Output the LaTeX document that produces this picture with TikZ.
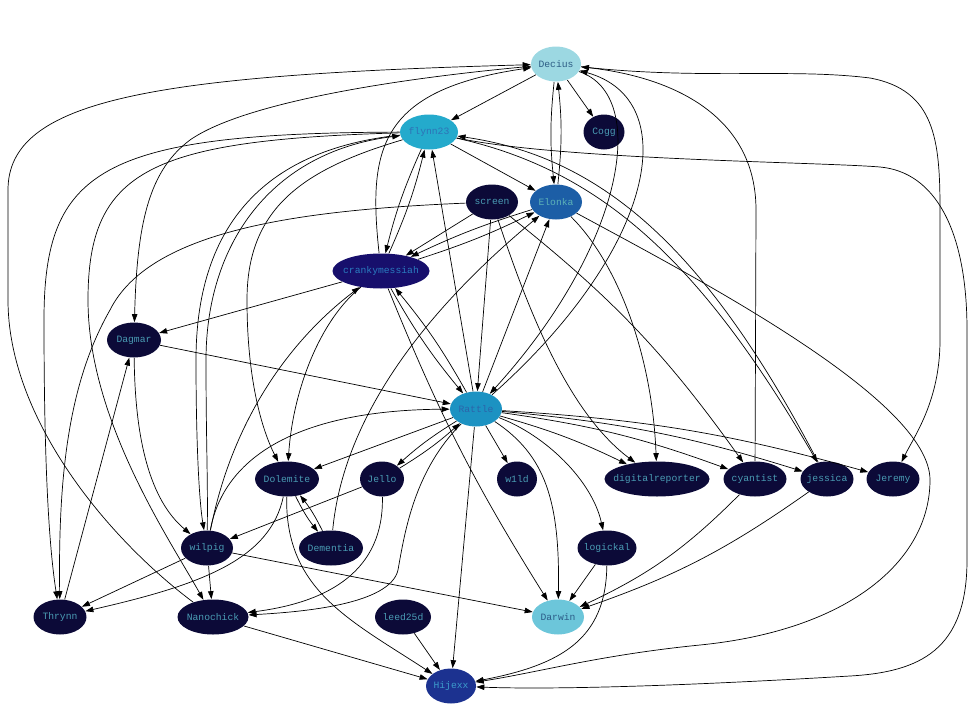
\documentclass[tikz,border=0pt]{standalone}
\usepackage{fontspec}
\usepackage{xcolor}
\usepackage{tikz}
\usetikzlibrary{shapes.geometric,arrows.meta}
\newfontfamily\userfont{Liberation Mono}
\definecolor{userbg}{HTML}{0C0A38}
\definecolor{usertx}{HTML}{4A9CB4}
\definecolor{deciusbg}{HTML}{9CD8E2}
\definecolor{deciustx}{HTML}{2C5C84}
\definecolor{flynnbg}{HTML}{24AACC}
\definecolor{flynntx}{HTML}{2E72B6}
\definecolor{elonkabg}{HTML}{1C5EA6}
\definecolor{elonkatx}{HTML}{5CB2B8}
\definecolor{crankybg}{HTML}{170F6C}
\definecolor{crankytx}{HTML}{2A7CC0}
\definecolor{rattlebg}{HTML}{1C92C2}
\definecolor{rattletx}{HTML}{2C64AA}
\definecolor{darwinbg}{HTML}{6CC6DA}
\definecolor{darwintx}{HTML}{2C5C88}
\definecolor{hijexxbg}{HTML}{1C3290}
\definecolor{hijexxtx}{HTML}{3C9CCC}
\begin{document}
\begin{tikzpicture}[x=1pt,y=1pt,line width=0.7pt,>={Triangle[length=8pt,width=5.5pt]},
  user/.style={ellipse,fill=userbg,text=usertx,inner xsep=-40pt,inner ysep=0pt,minimum height=35pt,font=\userfont\fontsize{9.7pt}{11pt}\selectfont}]
      \useasboundingbox (0,0) rectangle (980,-720);
      \node[user,fill=deciusbg,text=deciustx,minimum width=50pt] (Decius) at (556,-64) {Decius};
      \node[user,fill=flynnbg,text=flynntx,minimum width=58pt] (flynn23) at (429,-132) {flynn23};
      \node[user,minimum width=41pt] (Cogg) at (604,-132) {Cogg};
      \node[user,minimum width=52pt] (screen) at (492,-202) {screen};
      \node[user,fill=elonkabg,text=elonkatx,minimum width=52pt] (Elonka) at (556,-202) {Elonka};
      \node[user,fill=crankybg,text=crankytx,minimum width=97pt] (crankymessiah) at (381,-271) {crankymessiah};
      \node[user,minimum width=54pt] (Dagmar) at (134,-340) {Dagmar};
      \node[user,fill=rattlebg,text=rattletx,minimum width=52pt] (Rattle) at (476,-409) {Rattle};
      \node[user,minimum width=64pt] (Dolemite) at (287,-479) {Dolemite};
      \node[user,minimum width=44pt] (Jello) at (382,-479) {Jello};
      \node[user,minimum width=40pt] (w1ld) at (517,-479) {w1ld};
      \node[user,minimum width=105pt] (digitalreporter) at (657,-479) {digitalreporter};
      \node[user,minimum width=63pt] (cyantist) at (755,-479) {cyantist};
      \node[user,minimum width=53pt] (jessica) at (827,-479) {jessica};
      \node[user,minimum width=53pt] (Jeremy) at (893,-479) {Jeremy};
      \node[user,minimum width=52pt] (wilpig) at (207,-548) {wilpig};
      \node[user,minimum width=64pt] (Dementia) at (331,-548) {Dementia};
      \node[user,minimum width=59pt] (logickal) at (607,-548) {logickal};
      \node[user,minimum width=53pt] (Thrynn) at (60,-617) {Thrynn};
      \node[user,minimum width=71pt] (Nanochick) at (213,-617) {Nanochick};
      \node[user,minimum width=56pt] (leed25d) at (403,-617) {leed25d};
      \node[user,fill=darwinbg,text=darwintx,minimum width=52pt] (Darwin) at (558,-617) {Darwin};
      \node[user,fill=hijexxbg,text=hijexxtx,minimum width=50pt] (Hijexx) at (451,-686) {Hijexx};
      \path[->]
      (Decius) edge (flynn23)
      (Decius) edge (Cogg)
      (Decius) edge[bend right=6] (Elonka)
      (Elonka) edge[bend right=6] (Decius)
      (flynn23) edge (Elonka)
      (flynn23) edge[bend right=5] (crankymessiah)
      (crankymessiah) edge[bend right=5] (flynn23)
      (Rattle) edge (flynn23)
      (screen) edge (crankymessiah)
      (screen) edge (Rattle)
      (screen) edge[bend left=8] (cyantist)
      (Elonka) edge[bend right=4] (crankymessiah)
      (crankymessiah) edge[bend right=4] (Elonka)
      (Rattle) edge (Elonka)
      (crankymessiah) edge (Dagmar)
      (crankymessiah) edge[bend right=5] (Rattle)
      (Rattle) edge[bend right=5] (crankymessiah)
      (crankymessiah) edge[bend right=5] (Darwin)
      (Dagmar) edge (Rattle)
      (Thrynn) edge (Dagmar)
      (Rattle) edge (Dolemite)
      (Rattle) edge[bend right=5] (Jello)
      (Jello) edge[bend right=5] (Rattle)
      (Rattle) edge (w1ld)
      (Rattle) edge[bend left=5] (digitalreporter)
      (Rattle) edge[bend left=6] (cyantist)
      (Rattle) edge[bend left=6] (jessica)
      (Rattle) edge[bend left=6] (Jeremy)
      (Rattle) edge (Hijexx)
      (Dolemite) edge[bend right=6] (Dementia)
      (Dementia) edge[bend right=6] (Dolemite)
      (Jello) edge (wilpig)
      (wilpig) edge (Thrynn)
      (wilpig) edge (Nanochick)
      (wilpig) edge (Darwin)
      (Nanochick) edge (Hijexx)
      (leed25d) edge (Hijexx)
      (logickal) edge (Darwin)
      (cyantist) edge[bend left=10] (Darwin)
      (jessica) edge[bend left=8] (Darwin)
      ;
      % long curved edges
      \draw[->] (Decius) .. controls (700,-80) and (790,-68) .. (870,-78) .. controls (935,-90) and (940,-140) .. (940,-210) -- (940,-340) .. controls (940,-400) and (915,-435) .. (Jeremy);
      \draw[->] (cyantist) -- (756,-210) .. controls (756,-120) and (680,-78) .. (Decius);
      \draw[->] (Decius) .. controls (650,-95) and (625,-245) .. (Rattle);
      \draw[->] (Rattle) .. controls (655,-250) and (685,-100) .. (Decius);
      \draw[->] (Nanochick) .. controls (110,-540) and (8,-420) .. (8,-300) -- (8,-190) .. controls (8,-100) and (150,-75) .. (Decius);
      \draw[->] (crankymessiah) .. controls (368,-150) and (378,-90) .. (Decius);
      \draw[->] (Decius) .. controls (380,-80) and (240,-105) .. (190,-140) .. controls (150,-170) and (137,-220) .. (Dagmar);
      \draw[->] (flynn23) .. controls (100,-133) and (44,-170) .. (44,-320) .. controls (44,-450) and (48,-540) .. (Thrynn);
      \draw[->] (flynn23) .. controls (150,-140) and (88,-170) .. (88,-300) .. controls (88,-420) and (170,-540) .. (Nanochick);
      \draw[->] (screen) .. controls (300,-210) and (150,-230) .. (110,-310) .. controls (70,-380) and (58,-470) .. (Thrynn);
      \draw[->] (flynn23) .. controls (260,-150) and (196,-230) .. (196,-360) .. controls (196,-440) and (199,-500) .. (wilpig);
      \draw[->] (wilpig) .. controls (208,-480) and (206,-440) .. (206,-360) .. controls (206,-245) and (270,-152) .. (flynn23);
      \draw[->] (flynn23) .. controls (300,-170) and (247,-210) .. (247,-300) .. controls (247,-380) and (262,-430) .. (Dolemite);
      \draw[->] (flynn23) .. controls (560,-160) and (820,-162) .. (880,-167) .. controls (935,-172) and (967,-230) .. (967,-330) -- (967,-560) .. controls (967,-650) and (920,-672) .. (850,-676) .. controls (700,-685) and (560,-690) .. (Hijexx);
      \draw[->] (Elonka) .. controls (700,-280) and (930,-400) .. (930,-480) .. controls (930,-560) and (850,-630) .. (700,-645) .. controls (600,-655) and (540,-672) .. (Hijexx);
      \draw[->] (logickal) .. controls (606,-640) and (560,-665) .. (Hijexx);
      \draw[->] (Rattle) .. controls (545,-455) and (560,-500) .. (Darwin);
      \draw[->] (Rattle) .. controls (545,-435) and (592,-480) .. (logickal);
      \draw[->] (Rattle) .. controls (415,-470) and (405,-530) .. (398,-570) .. controls (390,-605) and (300,-612) .. (Nanochick);
      \draw[->] (Jello) .. controls (384,-570) and (330,-602) .. (Nanochick);
      \draw[->] (Dolemite) .. controls (270,-560) and (200,-585) .. (Thrynn);
      \draw[->] (Dolemite) .. controls (285,-590) and (350,-620) .. (Hijexx);
      \draw[->] (wilpig) .. controls (225,-450) and (310,-410) .. (Rattle);
      \draw[->] (wilpig) .. controls (232,-420) and (290,-340) .. (crankymessiah);
      \draw[->] (Dementia) .. controls (345,-400) and (450,-290) .. (Elonka);
      \draw[->] (screen) .. controls (525,-300) and (565,-410) .. (digitalreporter);
      \draw[->] (Elonka) .. controls (615,-260) and (652,-350) .. (digitalreporter);
      \draw[->] (Dagmar) .. controls (135,-440) and (150,-500) .. (wilpig);
      \draw[->] (crankymessiah) .. controls (320,-320) and (293,-390) .. (Dolemite);
      \draw[->] (flynn23) .. controls (600,-170) and (700,-260) .. (jessica);
      \draw[->] (jessica) .. controls (712,-260) and (610,-158) .. (flynn23);
\end{tikzpicture}
\end{document}
